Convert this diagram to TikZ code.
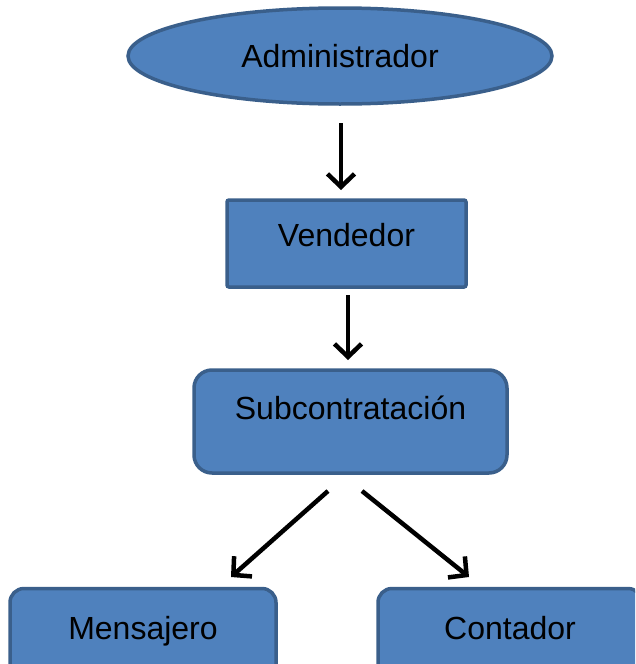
\documentclass[tikz,border=0pt]{standalone}
\usepackage{fontspec}
\setmainfont{Liberation Sans}
\usetikzlibrary{shapes.geometric,arrows.meta}
\definecolor{boxfill}{HTML}{4F81BD}
\definecolor{boxline}{HTML}{3A5F8B}
\begin{document}
\begin{tikzpicture}[x=1pt,y=-1pt,
  every node/.style={font=\fontsize{32}{38}\selectfont, text=black},
  shapebox/.style={draw=boxline, fill=boxfill, line width=3.5pt, inner sep=0pt},
  flowarrow/.style={line width=4.5pt, -{Straight Barb[length=13pt,width=27pt]}, black}]
\useasboundingbox (0,0) rectangle (635,664);
\clip (0,0) rectangle (635,664);
\node[shapebox, ellipse, minimum width=424pt, minimum height=96pt] (adm) at (340,56) {Administrador};
\node[shapebox, rounded corners=2pt, minimum width=239pt, text height=46.5pt, text depth=40.5pt] (ven) at (346.5,243.5) {Vendedor};
\node[shapebox, rounded corners=18pt, minimum width=313pt, text height=49.5pt, text depth=53.5pt] (sub) at (350.5,421.5) {Subcontratación};
\node[shapebox, rounded corners=14pt, minimum width=266pt, text height=50.5pt, text depth=40.5pt] (men) at (143,634) {Mensajero};
\node[shapebox, rounded corners=14pt, minimum width=264pt, text height=50.5pt, text depth=40.5pt] (con) at (510,634) {Contador};
\coordinate (a1s) at (341,123);
\coordinate (a1e) at (341,190);
\coordinate (a2s) at (348,295);
\coordinate (a2e) at (348,360);
\coordinate (a3s) at (328,491);
\coordinate (a3e) at (231,577);
\coordinate (a4s) at (362,491);
\coordinate (a4e) at (469,577);
\draw[flowarrow] (a1s) -- (a1e);
\draw[flowarrow] (a2s) -- (a2e);
\draw[flowarrow] (a3s) -- (a3e);
\draw[flowarrow] (a4s) -- (a4e);
\end{tikzpicture}
\end{document}
